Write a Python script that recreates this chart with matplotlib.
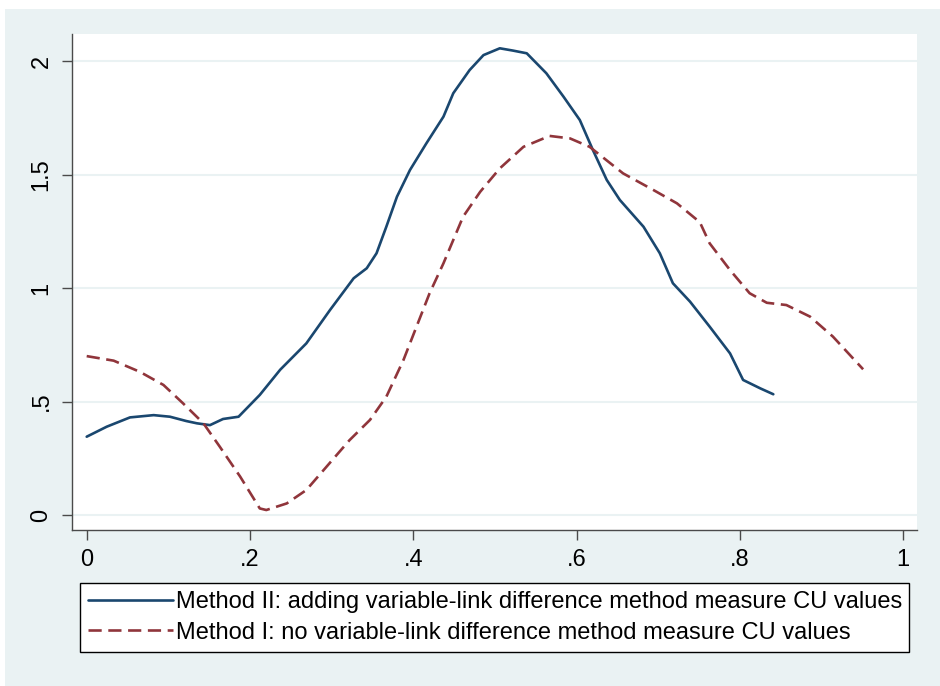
import matplotlib
matplotlib.use('Agg')
import matplotlib.pyplot as plt
from matplotlib.patches import Rectangle

plt.rcParams['font.family'] = ['Liberation Sans', 'DejaVu Sans']

# Method II: adding variable-link difference method
x_m2 = [0.0, 0.0245, 0.053, 0.082, 0.102, 0.122, 0.135, 0.151, 0.167, 0.186,
        0.212, 0.237, 0.269, 0.298, 0.327, 0.343, 0.355, 0.367, 0.380, 0.396,
        0.416, 0.437, 0.449, 0.469, 0.486, 0.506, 0.522, 0.539, 0.563, 0.584,
        0.604, 0.620, 0.637, 0.653, 0.682, 0.702, 0.718, 0.739, 0.763, 0.788,
        0.804, 0.825, 0.841]
y_m2 = [0.345, 0.389, 0.430, 0.440, 0.433, 0.414, 0.404, 0.396, 0.423, 0.433,
        0.529, 0.640, 0.756, 0.903, 1.043, 1.087, 1.153, 1.270, 1.402, 1.520,
        1.637, 1.755, 1.858, 1.960, 2.026, 2.056, 2.046, 2.034, 1.946, 1.843,
        1.740, 1.608, 1.476, 1.388, 1.270, 1.153, 1.021, 0.940, 0.830, 0.712,
        0.595, 0.558, 0.532]

# Method I: no variable-link difference method
x_m1 = [0.0, 0.033, 0.065, 0.094, 0.118, 0.143, 0.163, 0.188, 0.212, 0.220,
        0.245, 0.269, 0.308, 0.322, 0.347, 0.367, 0.388, 0.404, 0.420, 0.437,
        0.461, 0.482, 0.506, 0.535, 0.567, 0.592, 0.616, 0.657, 0.694, 0.723,
        0.751, 0.763, 0.788, 0.812, 0.833, 0.857, 0.886, 0.914, 0.951]
y_m1 = [0.700, 0.680, 0.631, 0.573, 0.492, 0.404, 0.301, 0.169, 0.029, 0.022,
        0.051, 0.110, 0.272, 0.330, 0.419, 0.521, 0.683, 0.830, 0.977, 1.109,
        1.314, 1.424, 1.527, 1.622, 1.670, 1.659, 1.622, 1.505, 1.432, 1.373,
        1.290, 1.197, 1.079, 0.977, 0.935, 0.925, 0.874, 0.786, 0.642]

labels = ['Method II: adding variable-link difference method measure CU values',
          'Method I: no variable-link difference method measure CU values']
xticks = [0, 0.2, 0.4, 0.6, 0.8, 1.0]
xtick_labels = ['0', '.2', '.4', '.6', '.8', '1']
yticks = [0, 0.5, 1.0, 1.5, 2.0]
ytick_labels = ['0', '.5', '1', '1.5', '2']

W, H = 940, 686
bg = '#eaf2f3'
fs = 17
fig = plt.figure(figsize=(W / 100, H / 100), dpi=100, facecolor='white')
fig.patches.append(Rectangle((5 / W, 0), 1, (H - 9) / H, transform=fig.transFigure,
                             facecolor=bg, edgecolor='none', zorder=-10))

ax = fig.add_axes([72 / W, (H - 530) / H, (917 - 72) / W, (530 - 34) / H])
ax.set_facecolor('white')

l2, = ax.plot(x_m2, y_m2, color='#1a476f', lw=1.9, solid_capstyle='round')
l1, = ax.plot(x_m1, y_m1, color='#90353b', lw=1.9, linestyle=(0, (5, 2.5)))

ax.set_xlim(-0.018, 1.017)
ax.set_ylim(-0.066, 2.119)
ax.set_xticks(xticks, xtick_labels)
ax.set_yticks(yticks, ytick_labels)
ax.grid(axis='y', color='#eaf2f3', lw=1.5)
ax.set_axisbelow(True)
for s in ['top', 'right']:
    ax.spines[s].set_visible(False)
for s in ['left', 'bottom']:
    ax.spines[s].set_color('#4a4a4a')
    ax.spines[s].set_linewidth(1.0)
ax.tick_params(length=7, width=1.0, color='#4a4a4a', labelsize=fs, pad=7)
ax.tick_params(axis='y', labelrotation=90)
plt.setp(ax.get_yticklabels(), va='center')

leg = fig.legend([l2, l1], labels, loc='upper left',
                 bbox_to_anchor=(80 / W, (H - 660) / H, 829 / W, 77 / H),
                 mode='expand', fontsize=fs, handlelength=3.6, handletextpad=0.1,
                 labelspacing=0.35, borderpad=0.35, borderaxespad=0,
                 fancybox=False, framealpha=1, edgecolor='black')
leg.get_frame().set_linewidth(1.0)

fig.savefig('out.png', dpi=100, facecolor=fig.get_facecolor())
